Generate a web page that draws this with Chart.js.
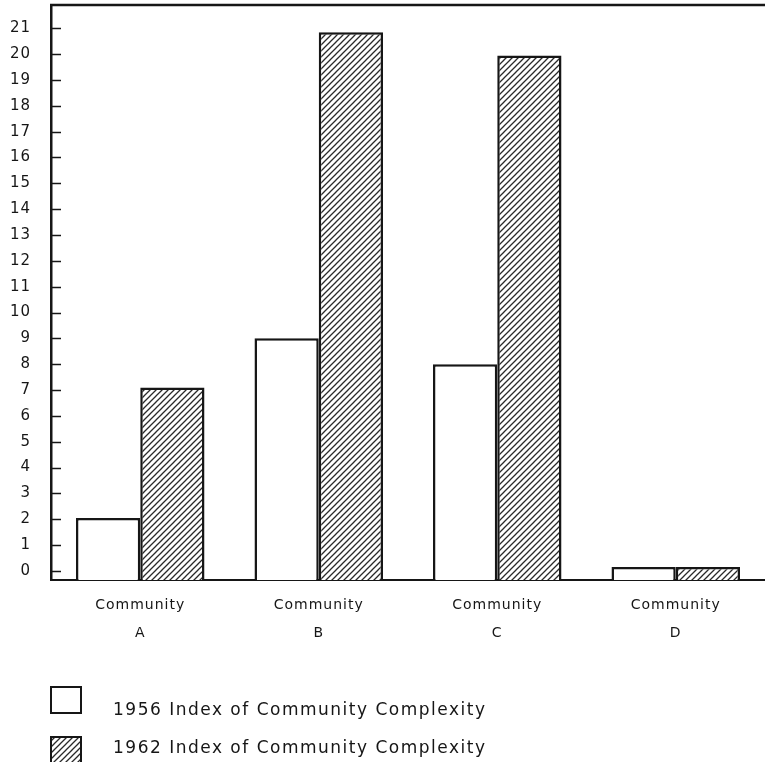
<!DOCTYPE html>
<html><head><meta charset="utf-8">
<script src="https://cdn.jsdelivr.net/npm/chart.js@4/dist/chart.umd.min.js"></script>
<style>html,body{margin:0;padding:0;background:#fff}#wrap{width:765px;height:762px;position:relative}</style>
</head><body><div id="wrap"><canvas id="c"></canvas></div>
<script>
const categories = [["Community","A"],["Community","B"],["Community","C"],["Community","D"]];
const series1956 = [2.05, 9.0, 8.0, 0.15];
const series1962 = [7.1, 20.85, 19.95, 0.15];
const seriesLabels = ["1956 Index of Community Complexity", "1962 Index of Community Complexity"];
const yTickValues = [0,1,2,3,4,5,6,7,8,9,10,11,12,13,14,15,16,17,18,19,20,21];

const Y_MIN = -0.35, Y_MAX = 21.9;
const INK = '#161616';
const FONT = '"DejaVu Sans", sans-serif';

function makeHatch() {
  const s = 6;
  const cv = document.createElement('canvas');
  cv.width = s; cv.height = s;
  const g = cv.getContext('2d');
  g.fillStyle = '#fff'; g.fillRect(0,0,s,s);
  g.strokeStyle = '#2a2a2a'; g.lineWidth = 1.3;
  g.beginPath();
  g.moveTo(-1, s+1); g.lineTo(s+1, -1);
  g.moveTo(-1, 1); g.lineTo(1, -1);
  g.moveTo(s-1, s+1); g.lineTo(s+1, s-1);
  g.stroke();
  return g.createPattern(cv, 'repeat');
}
const hatch = makeHatch();

const spacing = {
  id: 'spacing',
  beforeLayout(chart) { chart.ctx.letterSpacing = '1px'; },
  beforeDraw(chart) { chart.ctx.letterSpacing = '1px'; }
};

const decor = {
  id: 'decor',
  afterDraw(chart) {
    const ctx = chart.ctx, ca = chart.chartArea, y = chart.scales.y;
    ctx.save();
    ctx.strokeStyle = INK;
    ctx.lineWidth = 2.5;
    ctx.beginPath(); ctx.moveTo(ca.left - 1, ca.top); ctx.lineTo(chart.width, ca.top); ctx.stroke();
    ctx.lineWidth = 1.5;
    y.ticks.forEach(t => {
      const py = Math.round(y.getPixelForValue(t.value)) + 0.5;
      ctx.beginPath(); ctx.moveTo(ca.left, py); ctx.lineTo(ca.left + 10, py); ctx.stroke();
    });
    const items = chart.data.datasets;
    const rows = [{box: 687, text: 711}, {box: 737, text: 749}];
    ctx.letterSpacing = '1.5px';
    items.forEach((ds, i) => {
      const r = rows[i];
      ctx.fillStyle = ds.backgroundColor;
      ctx.fillRect(51, r.box, 30, 26);
      ctx.lineWidth = 2;
      ctx.strokeStyle = INK;
      ctx.strokeRect(51, r.box, 30, 26);
      ctx.fillStyle = INK;
      ctx.font = '17px ' + FONT;
      ctx.textBaseline = 'middle';
      ctx.textAlign = 'left';
      ctx.fillText(ds.label, 113, r.text);
    });
    ctx.restore();
  }
};

new Chart(document.getElementById('c'), {
  type: 'bar',
  data: {
    labels: categories,
    datasets: [
      { label: seriesLabels[0], data: series1956, backgroundColor: '#ffffff', borderColor: INK, borderWidth: 2.5, base: Y_MIN },
      { label: seriesLabels[1], data: series1962, backgroundColor: hatch, borderColor: INK, borderWidth: 2.5, base: Y_MIN }
    ]
  },
  options: {
    responsive: true,
    maintainAspectRatio: false,
    animation: false,
    events: [],
    layout: { padding: { top: 5, right: 0, bottom: 112, left: 0 } },
    datasets: { bar: { categoryPercentage: 0.72, barPercentage: 1.0, borderSkipped: 'bottom' } },
    plugins: { legend: { display: false }, tooltip: { enabled: false }, title: { display: false } },
    scales: {
      x: {
        grid: { display: false, drawTicks: false },
        border: { display: true, color: INK, width: 2 },
        ticks: { color: INK, font: { family: FONT, size: 14, lineHeight: 2.0 }, padding: 11, maxRotation: 0, autoSkip: false },
        afterFit(s) { s.height = 70; s.paddingTop = 0; }
      },
      y: {
        min: Y_MIN, max: Y_MAX,
        grid: { display: false, drawTicks: false },
        border: { display: true, color: INK, width: 2.5 },
        ticks: { color: INK, font: { family: FONT, size: 15 }, padding: 20 },
        afterBuildTicks(s) { s.ticks = yTickValues.map(v => ({ value: v })); },
        afterFit(s) { s.width = 51; s.paddingTop = 0; s.paddingBottom = 0; }
      }
    }
  },
  plugins: [spacing, decor]
});
</script>
</body></html>
